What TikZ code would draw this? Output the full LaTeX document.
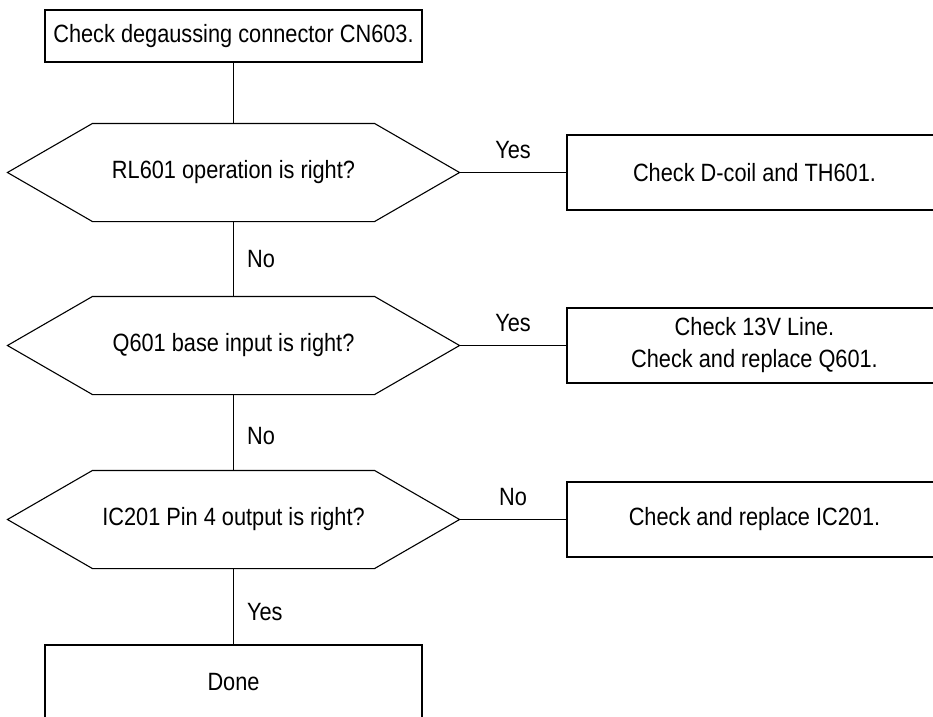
\documentclass[tikz,border=0pt]{standalone}
\usepackage{fontspec}
\setmainfont{Liberation Sans}[FakeStretch=0.87]
\usetikzlibrary{positioning, calc}

\begin{document}
\begin{tikzpicture}[x=1pt, y=-1pt, line width=1.1pt,
    font=\fontsize{25}{32}\selectfont,
    box/.style={draw, rectangle, minimum width=377pt, minimum height=52pt, inner sep=0pt, align=center},
    fix/.style={box, minimum width=375pt, minimum height=75pt},
    ask/.style={rectangle, minimum width=281pt, minimum height=97pt, inner sep=0pt},
    ans/.style={inner sep=0pt}]
    \path[use as bounding box, clip] (0,0) rectangle (933,716);

    \node[box] (start) at (233.5,36) {Check degaussing connector CN603.};
    \node[ask] (q1) at (233.5,172.5) {RL601 operation is right?};
    \node[ask] (q2) at (233.5,345.5) {Q601 base input is right?};
    \node[ask] (q3) at (233.5,519.5) {IC201 Pin 4 output is right?};
    \node[fix] (coil) at (754.5,172.5) {Check D-coil and TH601.};
    \node[fix] (line) at (754.5,345.5) {Check 13V Line.\\Check and replace Q601.};
    \node[fix] (ic) at (754.5,519.5) {Check and replace IC201.};
    \node[box, minimum height=74pt] (done) at (233.5,682) {Done};

    \foreach \q in {q1,q2,q3} {
        \coordinate (\q-l) at ([xshift=-85pt]\q.west);
        \coordinate (\q-r) at ([xshift=85pt]\q.east);
        \draw (\q.north west) -- (\q.north east) -- (\q-r) -- (\q.south east)
            -- (\q.south west) -- (\q-l) -- cycle;
    }

    \draw (start) -- (q1);
    \draw (q1) -- node[ans, midway, right=13pt] {No} (q2);
    \draw (q2) -- node[ans, pos=0.55, right=13pt] {No} (q3);
    \draw (q3) -- node[ans, pos=0.57, right=13pt] {Yes} (done);

    \draw (q1-r) -- node[ans, midway, above=13pt] {Yes} (coil);
    \draw (q2-r) -- node[ans, midway, above=13pt] {Yes} (line);
    \draw (q3-r) -- node[ans, midway, above=13pt] {No} (ic);
\end{tikzpicture}
\end{document}
